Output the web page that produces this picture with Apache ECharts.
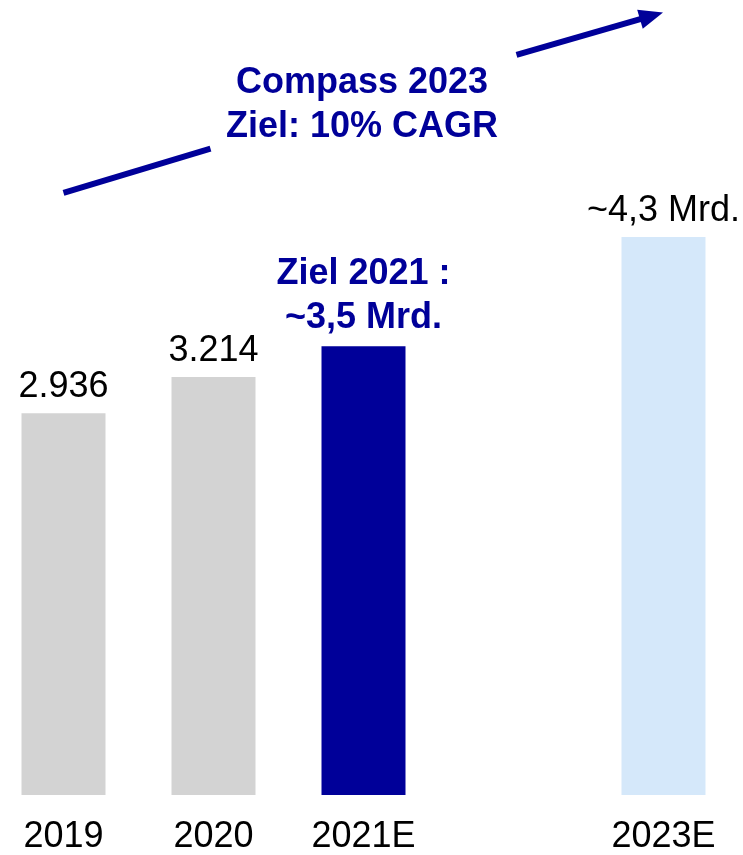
<!DOCTYPE html>
<html><head><meta charset="utf-8">
<script src="https://cdn.jsdelivr.net/npm/echarts@6/dist/echarts.min.js"></script>
<style>html,body{margin:0;padding:0;background:#fff}#c{width:743px;height:855px}</style>
</head><body><div id="c"></div>
<script>
const categories = ['2019', '2020', '2021E', '2022', '2023E'];
const categoryIndex = [0, 1, 2, 3, 4];
const values = [2.936, 3.214, 3.45, null, 4.29];
const barLabels = ['2.936', '3.214', 'Ziel 2021 :\n~3,5 Mrd.', '', '~4,3 Mrd.'];
const shownTicks = [0, 1, 2, 4];
const annotationText = 'Compass 2023\nZiel: 10% CAGR';
// arrow segments in data space: [x index, value]
const arrowSeg1 = [[0, 4.63], [0.98, 4.97]];
const arrowSeg2 = [[3.02, 5.69], [3.92, 5.99]];

const GREY = '#D3D3D3', NAVY = '#000099', LIGHT = '#D5E8FA';
const barColors = [GREY, GREY, NAVY, GREY, LIGHT];
const FONT = "'Liberation Sans', Arial, sans-serif";

const X_MIN = -0.4233, X_MAX = 4.5300;

const chart = echarts.init(document.getElementById('c'), null, {renderer: 'canvas'});
chart.setOption({
  animation: false,
  grid: {left: 0, right: 0, top: 1.6, bottom: 58, containLabel: false},
  xAxis: {
    type: 'value', min: X_MIN, max: X_MAX,
    splitLine: {show: false}, axisLine: {show: false}, axisTick: {show: false},
    axisLabel: {
      customValues: shownTicks, hideOverlap: false,
      formatter: v => categories[Math.round(v)],
      color: '#000', fontFamily: FONT, fontSize: 36, margin: 24
    }
  },
  yAxis: {type: 'value', min: 0, max: 6.1, show: false},
  graphic: [{
    type: 'text', x: 362, y: 61,
    style: {text: annotationText, fill: NAVY, fontFamily: FONT, fontWeight: 'bold',
            fontSize: 36, lineHeight: 44, textAlign: 'center', textVerticalAlign: 'top'}
  }],
  series: [
    {
      type: 'bar', barWidth: 84,
      data: values.map((v, i) => ({
        value: [categoryIndex[i], v],
        itemStyle: {color: barColors[i]},
        label: {
          show: v != null, position: 'top', distance: 6,
          formatter: () => barLabels[i],
          fontFamily: FONT, fontSize: 36,
          lineHeight: i === 2 ? 44 : 40,
          color: i === 2 ? NAVY : '#000',
          fontWeight: i === 2 ? 'bold' : 'normal'
        }
      })).filter(d => d.value[1] != null)
    },
    {
      type: 'line', data: [], silent: true,
      markLine: {
        silent: true, animation: false, label: {show: false},
        lineStyle: {color: NAVY, width: 6, type: 'solid'},
        symbolSize: [20, 24],
        data: [
          [{coord: arrowSeg1[0], symbol: 'none'}, {coord: arrowSeg1[1], symbol: 'none'}],
          [{coord: arrowSeg2[0], symbol: 'none'}, {coord: arrowSeg2[1], symbol: 'triangle'}]
        ]
      }
    }
  ]
});
</script></body></html>
